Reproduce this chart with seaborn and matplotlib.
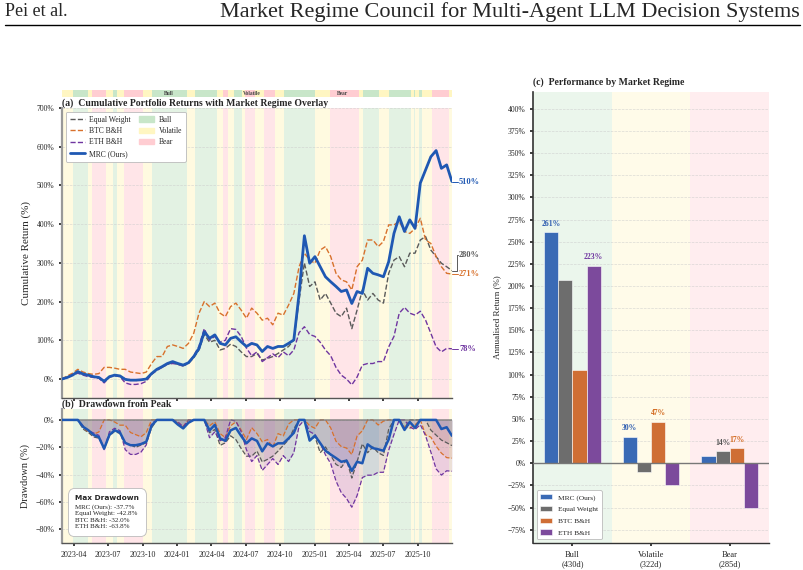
import matplotlib
matplotlib.use('Agg')
import matplotlib.pyplot as plt
import matplotlib.dates as mdates
from matplotlib.patches import Patch
from matplotlib.lines import Line2D
from matplotlib.ticker import FuncFormatter, MultipleLocator
from matplotlib.offsetbox import TextArea, VPacker, AnchoredOffsetbox
import seaborn as sns
import numpy as np
import pandas as pd

# ---------------------------------------------------------------
# Data (read off the reference, sampled every 14 days)
# ---------------------------------------------------------------
start_date = '2023-03-01'
step_days = 14

# cumulative returns (%)
mrc_cum = [0, 4, 10, 19, 13, 10, 6, 4, -6, 6, 10, 8, -1, -3, -3, -2, 0, 14, 25, 32,
           40, 45, 40, 36, 42, 58, 79, 122, 105, 114, 92, 88, 105, 109, 96, 84, 92, 88, 71, 84,
           79, 84, 84, 92, 101, 221, 370, 299, 316, 290, 264, 251, 239, 226, 230, 195, 226, 221, 286, 273,
           269, 264, 303, 376, 419, 381, 411, 389, 506, 540, 574, 590, 544, 553, 510]
ew_cum = [0, 5, 12, 20, 12, 9, 5, 4, -5, 6, 10, 8, 0, -2, -4, -2, 0, 13, 24, 30,
          38, 42, 38, 34, 40, 55, 75, 115, 95, 100, 75, 79, 90, 84, 70, 58, 58, 66, 49, 53,
          58, 66, 75, 84, 101, 204, 300, 239, 251, 204, 221, 196, 170, 161, 183, 130, 178, 230, 204, 221,
          204, 196, 273, 307, 316, 290, 325, 325, 359, 368, 333, 316, 299, 290, 280]
btc_cum = [0, 8, 15, 25, 18, 14, 12, 14, 30, 30, 28, 25, 25, 18, 16, 14, 18, 40, 58, 58,
           84, 88, 84, 79, 92, 118, 170, 200, 187, 196, 170, 161, 187, 196, 178, 157, 183, 170, 152, 157,
           140, 170, 165, 191, 221, 290, 325, 307, 299, 333, 342, 316, 273, 256, 251, 230, 290, 307, 359, 359,
           342, 355, 398, 398, 407, 381, 376, 389, 415, 359, 350, 316, 290, 273, 271]
eth_cum = [0, 3, 10, 15, 10, 6, 4, 2, -10, 5, 8, 6, -10, -14, -14, -12, -6, 12, 22, 30,
           38, 40, 38, 33, 42, 60, 85, 130, 100, 110, 95, 100, 130, 128, 110, 80, 60, 70, 45, 55,
           65, 55, 70, 60, 75, 120, 135, 115, 110, 95, 75, 60, 30, 10, 0, -15, 5, 36, 40, 40,
           45, 45, 83, 110, 170, 185, 170, 165, 175, 152, 118, 83, 70, 79, 78]

series_names = ['MRC (Ours)', 'Equal Weight', 'BTC B&H', 'ETH B&H']
max_drawdown = [-37.7, -42.8, -32.0, -63.8]

# regime segments (start day offset from start_date)
regime_start_day = [0, 30, 70, 79, 116, 135, 146, 166, 215, 238, 332, 354, 411, 429, 442, 457, 478, 487,
                    512, 538, 566, 590, 673, 713, 788, 801, 841, 868, 926, 934, 939, 948, 957, 983, 1027]
regime_name = ['Volatile', 'Bull', 'Volatile', 'Bear', 'Volatile', 'Bull', 'Volatile', 'Bear', 'Volatile',
               'Bull', 'Volatile', 'Bull', 'Volatile', 'Bear', 'Volatile', 'Bull', 'Volatile', 'Bear',
               'Volatile', 'Bear', 'Volatile', 'Bull', 'Volatile', 'Bear', 'Volatile', 'Bull', 'Volatile',
               'Bull', 'Volatile', 'Bull', 'Volatile', 'Bull', 'Volatile', 'Bear', 'Volatile']
end_day = 1036

# annualised return by regime (%)
regime_labels = ['Bull\n(430d)', 'Volatile\n(322d)', 'Bear\n(285d)']
mrc_regime = [261, 30, 8.5]
ew_regime = [207, -10, 14]
btc_regime = [105, 47, 17]
eth_regime = [223, -25, -50]

# ---------------------------------------------------------------
# Style
# ---------------------------------------------------------------
sns.set_theme(style='white')
plt.rcParams['font.family'] = ['Liberation Serif', 'DejaVu Serif']

line_colors = {'MRC (Ours)': '#1f58b3', 'Equal Weight': '#5a5a5a',
               'BTC B&H': '#d8712c', 'ETH B&H': '#6f35a0'}
bar_colors = ['#3a6ab5', '#6d6d6d', '#cf6e35', '#7c4a9c']
regime_colors = {'Bull': '#c8e6c9', 'Volatile': '#fff6c2', 'Bear': '#ffcdd2'}


def pct_fmt(v, pos):
    return f'{v:.0f}%'.replace('-', '\u2212')


dates = pd.date_range(start_date, periods=len(mrc_cum), freq=f'{step_days}D')
t0 = pd.Timestamp(start_date)
t_end = t0 + pd.Timedelta(days=end_day)
cum = {'MRC (Ours)': np.array(mrc_cum, float), 'Equal Weight': np.array(ew_cum, float),
       'BTC B&H': np.array(btc_cum, float), 'ETH B&H': np.array(eth_cum, float)}

fig = plt.figure(figsize=(8.04, 5.70), dpi=100)

# page header
fig.text(0.006, 0.979, 'Pei et al.', fontsize=13, va='center', ha='left')
fig.text(0.995, 0.979, 'Market Regime Council for Multi-Agent LLM Decision Systems',
         fontsize=16, va='center', ha='right')
fig.add_artist(Line2D([0.006, 0.995], [0.956, 0.956], transform=fig.transFigure, color='black', lw=1.0))

ax_strip = fig.add_axes([0.0771, 0.8298, 0.485, 0.0123])
ax_a = fig.add_axes([0.0771, 0.3018, 0.485, 0.5088])
ax_b = fig.add_axes([0.0771, 0.0474, 0.485, 0.2351], sharex=ax_a)
ax_c = fig.add_axes([0.663, 0.0474, 0.2935, 0.7912])

# regime shading
seg_bounds = regime_start_day + [end_day]
for i, name in enumerate(regime_name):
    s = t0 + pd.Timedelta(days=seg_bounds[i])
    e = t0 + pd.Timedelta(days=seg_bounds[i + 1])
    for ax in (ax_a, ax_b):
        ax.axvspan(s, e, color=regime_colors[name], alpha=0.5, lw=0, zorder=0)
    ax_strip.axvspan(s, e, color=regime_colors[name], alpha=1.0, lw=0)

ax_strip.set_xlim(t0, t_end)
ax_strip.set_ylim(0, 1)
ax_strip.axis('off')
for name, frac in zip(['Bull', 'Volatile', 'Bear'], [0.274, 0.487, 0.72]):
    ax_strip.text(frac, 0.5, name, transform=ax_strip.transAxes, ha='center', va='center',
                  fontsize=4, fontweight='bold', color='#444444')

# ---------------------------------------------------------------
# (a) cumulative returns
# ---------------------------------------------------------------
for name in ['Equal Weight', 'BTC B&H', 'ETH B&H']:
    sns.lineplot(x=dates, y=cum[name], ax=ax_a, color=line_colors[name], lw=1.0,
                 linestyle='--', zorder=3)
sns.lineplot(x=dates, y=cum['MRC (Ours)'], ax=ax_a, color=line_colors['MRC (Ours)'], lw=2.0, zorder=4)

ax_a.set_xlim(t0, t_end)
ax_a.set_ylim(-49, 700)
ax_a.yaxis.set_major_locator(MultipleLocator(100))
ax_a.yaxis.set_major_formatter(FuncFormatter(pct_fmt))
ax_a.set_xlabel('')
ax_a.set_ylabel('Cumulative Return (%)', fontsize=8)
ax_a.grid(axis='y', ls='--', lw=0.5, color='#cccccc', alpha=0.7)
ax_a.tick_params(axis='both', labelsize=5.5, length=2, left=True, bottom=True, labelbottom=False)
ax_a.set_title('(a)  Cumulative Portfolio Returns with Market Regime Overlay', loc='left',
               fontsize=7, fontweight='bold', pad=1.5)

# end labels with small leader lines (drawn outside the axes)
label_shift = {'MRC (Ours)': 0, 'Equal Weight': 40, 'BTC B&H': 0, 'ETH B&H': 0}
x_end = dates[-1]
x_knee = x_end + pd.Timedelta(days=13)
x_txt = x_end + pd.Timedelta(days=19)
for name in series_names:
    v = cum[name][-1]
    ly = v + label_shift[name]
    ax_a.plot([x_end, x_knee, x_knee, x_txt - pd.Timedelta(days=3)], [v, v, ly, ly],
              color=line_colors[name], lw=0.7, clip_on=False, zorder=5)
    ax_a.text(x_txt, ly, f'{v:.0f}%', fontsize=6, fontweight='bold', color=line_colors[name],
              va='center', ha='left', clip_on=False)

handles = [Line2D([0], [0], color=line_colors['Equal Weight'], lw=1.0, ls='--', label='Equal Weight'),
           Line2D([0], [0], color=line_colors['BTC B&H'], lw=1.0, ls='--', label='BTC B&H'),
           Line2D([0], [0], color=line_colors['ETH B&H'], lw=1.0, ls='--', label='ETH B&H'),
           Line2D([0], [0], color=line_colors['MRC (Ours)'], lw=2.0, label='MRC (Ours)'),
           Patch(color=regime_colors['Bull'], label='Bull'),
           Patch(color=regime_colors['Volatile'], label='Volatile'),
           Patch(color=regime_colors['Bear'], label='Bear')]
leg = ax_a.legend(handles=handles, ncol=2, loc='upper left', fontsize=5.5, frameon=True,
                  framealpha=1, edgecolor='#bbbbbb', handlelength=2.0, columnspacing=1.0,
                  borderpad=0.5, labelspacing=0.45, handletextpad=0.6)
leg.get_frame().set_linewidth(0.6)

# ---------------------------------------------------------------
# (b) drawdown
# ---------------------------------------------------------------
for name in ['Equal Weight', 'BTC B&H', 'ETH B&H', 'MRC (Ours)']:
    wealth = pd.Series(1 + cum[name] / 100.0)
    dd = (wealth / wealth.cummax() - 1).values * 100
    ax_b.fill_between(dates, dd, 0, color=line_colors[name], alpha=0.13, lw=0, zorder=2)
    if name == 'MRC (Ours)':
        sns.lineplot(x=dates, y=dd, ax=ax_b, color=line_colors[name], lw=1.8, zorder=4)
    else:
        sns.lineplot(x=dates, y=dd, ax=ax_b, color=line_colors[name], lw=0.9, linestyle='--', zorder=3)
ax_b.axhline(0, color='#777777', lw=1.2, alpha=0.8, zorder=3)
ax_b.set_ylim(-90, 8)
ax_b.set_yticks([0, -20, -40, -60, -80])
ax_b.yaxis.set_major_formatter(FuncFormatter(pct_fmt))
ax_b.set_ylabel('Drawdown (%)', fontsize=7.5)
ax_b.grid(axis='y', ls='--', lw=0.5, color='#cccccc', alpha=0.7)
ax_b.xaxis.set_major_locator(mdates.MonthLocator(bymonth=[1, 4, 7, 10]))
ax_b.xaxis.set_major_formatter(mdates.DateFormatter('%Y-%m'))
ax_b.tick_params(axis='both', labelsize=5.8, length=2, left=True, bottom=True)
ax_b.set_xlabel('')
ax_b.set_title('(b)  Drawdown from Peak', loc='left', fontsize=7, fontweight='bold', pad=1.5)

body = '\n'.join(f'{n}: {v:.1f}%' for n, v in zip(series_names, max_drawdown))
box = VPacker(children=[TextArea('Max Drawdown', textprops=dict(fontsize=5.3, fontweight='bold',
                                                                family='DejaVu Sans')),
                        TextArea(body, textprops=dict(fontsize=5, linespacing=1.35))],
              align='left', pad=0, sep=2)
anch = AnchoredOffsetbox(loc='lower left', child=box, pad=0.35, borderpad=0.3, frameon=True,
                         bbox_to_anchor=(0.008, 0.03), bbox_transform=ax_b.transAxes)
anch.patch.set_boxstyle('round,pad=0.1,rounding_size=0.4')
anch.patch.set_edgecolor('#bbbbbb')
anch.patch.set_linewidth(0.6)
anch.zorder = 6
ax_b.add_artist(anch)

for ax in (ax_a, ax_b):
    for side in ('top', 'right'):
        ax.spines[side].set_visible(False)
    ax.spines['left'].set_color('#999999')
    ax.spines['left'].set_linewidth(1.6)
    ax.spines['bottom'].set_color('#555555')
    ax.spines['bottom'].set_linewidth(1.0)

# ---------------------------------------------------------------
# (c) performance by regime
# ---------------------------------------------------------------
df = pd.DataFrame({
    'Regime': regime_labels * 4,
    'Strategy': np.repeat(series_names, 3),
    'Return': mrc_regime + ew_regime + btc_regime + eth_regime,
})
for i, name in enumerate(['Bull', 'Volatile', 'Bear']):
    ax_c.axvspan(i - 0.5, i + 0.5, color=regime_colors[name], alpha=0.35, lw=0, zorder=0)

sns.barplot(data=df, x='Regime', y='Return', hue='Strategy', hue_order=series_names,
            palette=bar_colors, saturation=1, width=0.72, gap=0, ax=ax_c, zorder=3,
            edgecolor='white', linewidth=0.4)
ax_c.axhline(0, color='#777777', lw=1.0, zorder=4)
ax_c.set_xlim(-0.5, 2.5)
ax_c.set_ylim(-90, 419)
ax_c.yaxis.set_major_locator(MultipleLocator(25))
ax_c.yaxis.set_major_formatter(FuncFormatter(pct_fmt))
ax_c.grid(axis='y', ls='--', lw=0.5, color='#cccccc', alpha=0.7, zorder=1)
ax_c.set_axisbelow(True)
ax_c.set_xlabel('')
ax_c.set_ylabel('Annualised Return (%)', fontsize=6.5)
ax_c.tick_params(axis='y', labelsize=5.5, length=2, left=True)
ax_c.tick_params(axis='x', labelsize=6, length=2, bottom=True)
ax_c.set_title('(c)  Performance by Market Regime', loc='left', fontsize=7, fontweight='bold', pad=5)
for side in ('top', 'right'):
    ax_c.spines[side].set_visible(False)
ax_c.spines['left'].set_color('#333333')
ax_c.spines['left'].set_linewidth(1.2)
ax_c.spines['bottom'].set_color('#333333')
ax_c.spines['bottom'].set_linewidth(1.0)

# value labels on the two best bars of each regime
vals = np.array([mrc_regime, ew_regime, btc_regime, eth_regime])
bar_w = 0.72 / 4
label_colors = ['#2b5bb0', '#555555', '#d2691e', '#6f35a0']
for g in range(3):
    top2 = np.argsort(vals[:, g])[::-1][:2]
    for s in top2:
        x = g + (s - 1.5) * bar_w
        ax_c.annotate(f'{vals[s, g]:.0f}%', xy=(x, vals[s, g]), xytext=(0, 3),
                      textcoords='offset points', ha='center', va='bottom',
                      fontsize=5.5, fontweight='bold', color=label_colors[s])

lg = ax_c.legend(loc='lower left', fontsize=5.3, frameon=True, framealpha=1, edgecolor='#bbbbbb',
                 handlelength=1.6, borderpad=0.5, labelspacing=0.75, title=None)
lg.get_frame().set_linewidth(0.6)

fig.savefig('out.png', dpi=100)
